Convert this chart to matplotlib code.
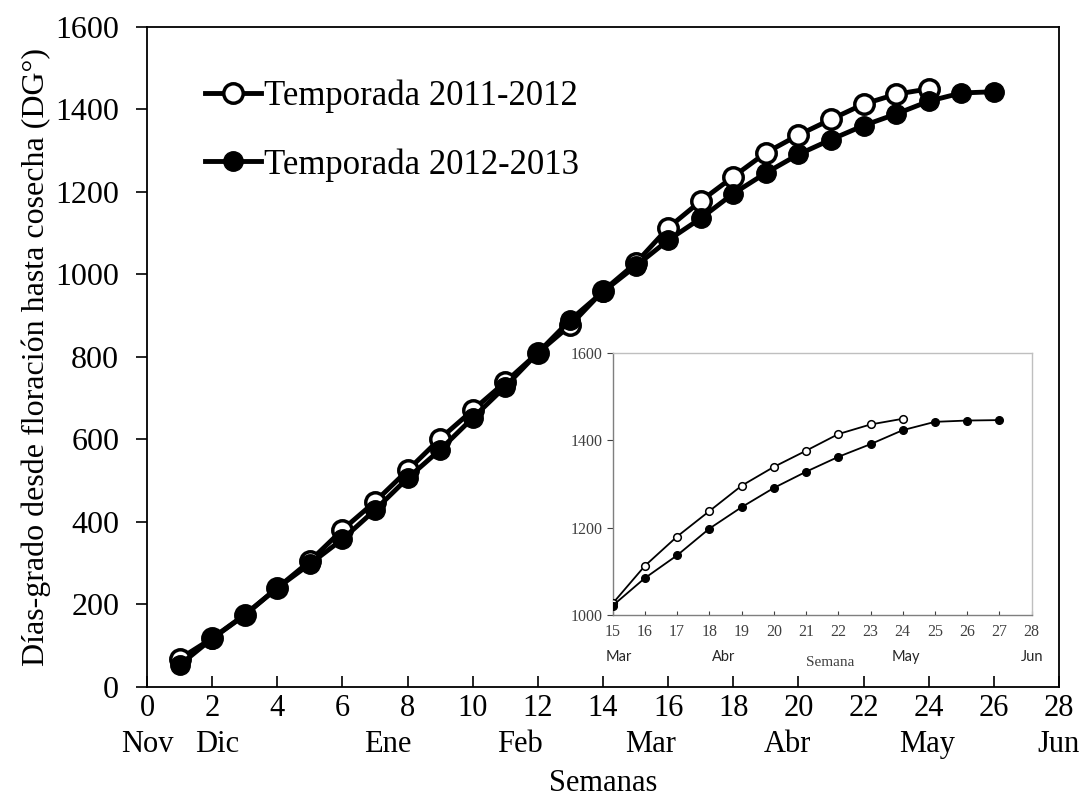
import matplotlib
matplotlib.use("Agg")
import matplotlib.pyplot as plt

# semanas desde floración y días-grado acumulados
semanas_1112 = list(range(1, 25))
dg_1112 = [68, 118, 175, 240, 305, 381, 449, 525, 602, 671, 739, 810,
           877, 960, 1027, 1113, 1178, 1237, 1295, 1338, 1376, 1413, 1437, 1450]
semanas_1213 = list(range(1, 27))
dg_1213 = [53, 117, 174, 240, 298, 358, 429, 506, 575, 652, 728, 810,
           890, 958, 1020, 1083, 1136, 1196, 1246, 1291, 1327, 1361, 1389, 1420,
           1440, 1443]

# detalle de la parte final (semana 15 en adelante)
inset_sem_1112 = list(range(15, 25))
inset_dg_1112 = [1027, 1113, 1180, 1238, 1296, 1339, 1376, 1414, 1436, 1449]
inset_sem_1213 = list(range(15, 28))
inset_dg_1213 = [1022, 1085, 1137, 1198, 1247, 1291, 1328, 1362, 1391, 1423,
                 1442, 1445, 1446]

meses = ["Nov", "Dic", "Ene", "Feb", "Mar", "Abr", "May", "Jun"]
meses_pos = [0, 2.15, 7.4, 11.45, 15.45, 19.65, 23.95, 28]
inset_meses = ["Mar", "Abr", "May", "Jun"]
inset_meses_pos = [15.2, 18.45, 24.1, 28]

serif = "Liberation Serif"

fig = plt.figure(figsize=(10.83, 8.08), dpi=100)
ax = fig.add_axes([0.1357, 0.1498, 0.8421, 0.8168])

ax.plot(semanas_1112, dg_1112, color="black", lw=3.5, marker="o", ms=14,
        mfc="white", mec="black", mew=2.5, label="Temporada 2011-2012", zorder=3)
ax.plot(semanas_1213, dg_1213, color="black", lw=3.5, marker="o", ms=14,
        mfc="black", mec="black", label="Temporada 2012-2013", zorder=4)

ax.set_xlim(0, 28)
ax.set_ylim(0, 1600)
ax.set_xticks(range(0, 29, 2))
ax.set_yticks(range(0, 1601, 200))
ax.tick_params(axis="x", direction="in", length=8, width=1.2, pad=5,
               labelsize=22)
ax.tick_params(axis="y", direction="out", length=8, width=1.2, pad=12,
               labelsize=23)
for lab in ax.get_xticklabels() + ax.get_yticklabels():
    lab.set_fontfamily(serif)
for sp in ax.spines.values():
    sp.set_linewidth(1.3)

xt = ax.get_xaxis_transform()
for m, p in zip(meses, meses_pos):
    ax.text(p, -0.087, m, transform=xt, ha="center", va="center",
            fontsize=22, family=serif)
ax.text(0.5, -0.147, "Semanas", transform=ax.transAxes, ha="center",
        va="center", fontsize=22, family=serif)
ax.set_ylabel("Días-grado desde floración hasta cosecha (DG°)", fontsize=23,
              family=serif, labelpad=3)

leg = ax.legend(loc="upper left", bbox_to_anchor=(0.064, 0.92), frameon=False,
                prop={"family": serif, "size": 25}, handlelength=1.6,
                handletextpad=0.1, labelspacing=1.0, borderpad=0,
                borderaxespad=0)

# gráfico interior
ins = fig.add_axes([0.5657, 0.2385, 0.3869, 0.325])
ins.plot(inset_sem_1112, inset_dg_1112, color="black", lw=1.3, marker="o",
         ms=5.5, mfc="white", mec="black", mew=1.1, zorder=3)
ins.plot(inset_sem_1213, inset_dg_1213, color="black", lw=1.3, marker="o",
         ms=5.5, mfc="black", mec="black", zorder=4)
ins.set_xlim(15, 28)
ins.set_ylim(1000, 1600)
ins.set_xticks(range(15, 29))
ins.set_yticks(range(1000, 1601, 200))
ins.tick_params(axis="x", direction="in", length=3, width=0.8, pad=6,
                labelsize=11.5, colors="#404040")
ins.tick_params(axis="y", direction="out", length=4, width=0.8, pad=3,
                labelsize=11.5, colors="#404040")
for lab in ins.get_xticklabels() + ins.get_yticklabels():
    lab.set_fontfamily(serif)
for name, sp in ins.spines.items():
    sp.set_linewidth(1.0)
    sp.set_color("#7f7f7f" if name in ("left", "bottom") else "#bfbfbf")

it = ins.get_xaxis_transform()
for m, p in zip(inset_meses, inset_meses_pos):
    ins.text(p, -0.16, m, transform=it, ha="center", va="center",
             fontsize=10.5, family="Lato", color="#262626")
ins.text(0.52, -0.18, "Semana", transform=ins.transAxes, ha="center",
         va="center", fontsize=11, family=serif, color="#404040")

fig.savefig("out.png", dpi=100)
